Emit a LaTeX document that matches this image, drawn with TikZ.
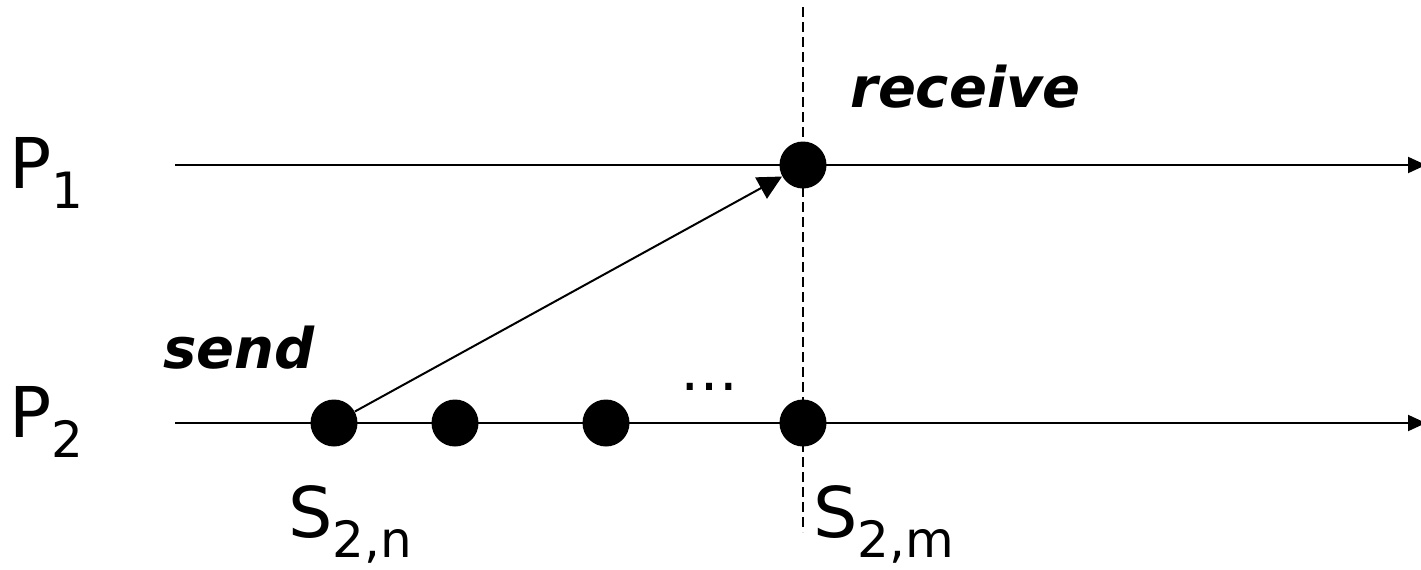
\documentclass[tikz,border=0pt]{standalone}
\usepackage{fontspec}
\setmainfont{DejaVu Sans}
\usetikzlibrary{arrows.meta}

\newcommand{\sublbl}[2]{#1\raisebox{-10pt}{\fontsize{25}{28}\selectfont #2}}

\begin{document}
\begin{tikzpicture}[x=0.5pt,y=-0.5pt]
\tikzset{
  event/.style={circle,fill=black,inner sep=0pt,minimum size=23.5pt},
  proc/.style={line width=1pt,-{Triangle[length=9pt,width=8pt]}},
  lbl/.style={inner sep=0pt,anchor=base west,font=\fontsize{35}{40}\selectfont},
  act/.style={inner sep=0pt,anchor=base west,font=\fontsize{28}{32}\selectfont\bfseries\itshape}
}
\useasboundingbox (0,0) rectangle (1421,569);
% process lines
\coordinate (P1s) at (175,165); \coordinate (P1e) at (1426,165);
\coordinate (P2s) at (175,423); \coordinate (P2e) at (1426,423);
\draw[proc] (P1s)--(P1e);
\draw[proc] (P2s)--(P2e);
% cut
\coordinate (Ct) at (803,7); \coordinate (Cb) at (803,532);
\draw[line width=1pt,dash pattern=on 5pt off 2.5pt] (Ct)--(Cb);
% events
\node[event] (r) at (803,165) {};
\node[event] (s1) at (334,423) {};
\node[event] (s2) at (455,423) {};
\node[event] (s3) at (606,423) {};
\node[event] (s4) at (803,423) {};
\draw[line width=1pt,-{Triangle[length=12pt,width=12pt]}] (s1)--(r);
% labels
\node[lbl] (p1) at (9,188) {\sublbl{P}{1}};
\node[lbl] (p2) at (9,437) {\sublbl{P}{2}};
\node[lbl] (sn) at (288,537) {\sublbl{S}{2,n}};
\node[lbl] (sm) at (813,537) {\sublbl{S}{2,m}};
\node[act] (rcv) at (850,107) {receive};
\node[act] (snd) at (163,368) {send};
\node[lbl,font=\fontsize{29}{32}\selectfont] (dots) at (680,390) {…};
\end{tikzpicture}
\end{document}
